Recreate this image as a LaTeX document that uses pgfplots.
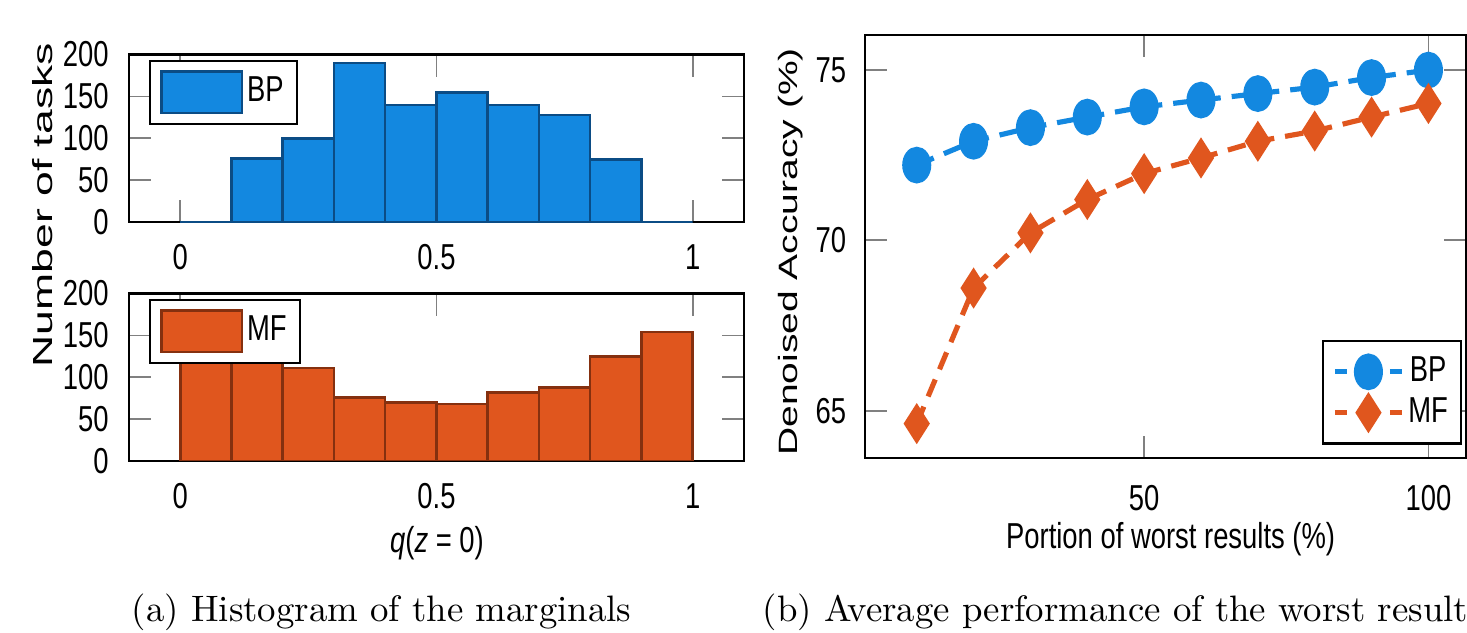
\documentclass[border=0pt]{standalone}
\usepackage{fontspec}
\usepackage{graphicx}
\usepackage{pgfplots}
\pgfplotsset{compat=1.18}

\newfontfamily\figsf[FakeStretch=0.76]{Liberation Sans}
\newfontfamily\labsf{Liberation Sans}
\newcommand\tickfont{\fontsize{9.8}{11.5}\selectfont\figsf}

\definecolor{bpblue}{HTML}{1388E0}
\definecolor{mforange}{HTML}{E0561E}
\definecolor{bpedge}{HTML}{0B4C85}
\definecolor{mfedge}{HTML}{85300F}

\pgfplotsset{
  matlab/.style={
    scale only axis, anchor=south west,
    axis line style={line width=0.75pt},
    tick style={gray, line width=0.5pt},
    major tick length=6pt,
    tick label style={font=\tickfont},
    /pgf/number format/assume math mode=true,
  },
  histo/.style={
    matlab,
    width=167.1pt, height=45.5pt,
    xmin=-0.1, xmax=1.1, ymin=0, ymax=200,
    xtick={0,0.5,1}, xticklabels={0,0.5,1},
    ytick={0,50,100,150,200},
    xticklabel style={yshift=-2.6pt},
    yticklabel style={xshift=-2pt},
    legend style={at={(0.033,0.97)}, anchor=north west, draw=black,
      line width=0.6pt, fill=white, inner xsep=2.6pt, inner ysep=2.6pt,
      font=\tickfont, nodes={inner xsep=1pt, inner ysep=1pt}},
  },
  histleg/.style={
    legend image code/.code={\draw[##1, line width=0.7pt] (0pt,-5.65pt) rectangle (22pt,5.65pt);},
  },
}

\begin{document}
\begin{tikzpicture}
\useasboundingbox (0pt,0pt) rectangle (398.64pt,171.74pt);
\clip (0pt,0pt) rectangle (398.64pt,171.74pt);

% (a) top histogram: BP
\begin{axis}[histo, at={(35.05pt,111.41pt)}]
  \addplot[ybar interval, histleg, fill=bpblue, draw=bpedge, line width=0.7pt] coordinates {
    (0,0) (0.1,76) (0.2,100) (0.3,190) (0.4,140) (0.5,155)
    (0.6,140) (0.7,128) (0.8,75) (0.9,0) (1,0)
  };
  \addlegendentry{BP}
\end{axis}

% (a) bottom histogram: MF
\begin{axis}[histo, at={(35.05pt,46.47pt)}]
  \addplot[ybar interval, histleg, fill=mforange, draw=mfedge, line width=0.7pt] coordinates {
    (0,122) (0.1,118) (0.2,111) (0.3,76) (0.4,70) (0.5,68)
    (0.6,82) (0.7,88) (0.8,125) (0.9,154) (1,154)
  };
  \addlegendentry{MF}
\end{axis}

% (b) worst results
\begin{axis}[matlab, at={(235.05pt,47.28pt)},
  width=163.3pt, height=114.95pt,
  xmin=0.9, xmax=106.6, ymin=63.61, ymax=76.03,
  xtick={50,100}, ytick={65,70,75},
  xticklabel style={yshift=-4pt},
  yticklabel style={xshift=-1.6pt},
  legend style={at={(0.9933,0.279)}, anchor=north east, draw=black,
    line width=0.6pt, fill=white, inner xsep=2.5pt, inner ysep=2.8pt,
    font=\tickfont, row sep=0pt,
    nodes={inner xsep=1pt, inner ysep=1.5pt, text height=6.7pt, text depth=1.4pt}},
  legend image code/.code={
    \draw[#1, dash pattern=on 3.3pt off 11.7pt on 3.3pt off 10pt, mark repeat=2, mark phase=2]
      plot coordinates {(0pt,0pt) (9.15pt,0pt) (18.3pt,0pt)};
  },
]
  \addplot[bpblue, line width=1.4pt, dash pattern=on 5pt off 3pt,
    mark=*, mark size=3.25pt, mark options={solid, yscale=1.32}] coordinates {
    (10,72.21) (20,72.91) (30,73.31) (40,73.62) (50,73.92)
    (60,74.12) (70,74.31) (80,74.50) (90,74.78) (100,75.00)
  };
  \addlegendentry{BP}
  \addplot[mforange, line width=1.4pt, dash pattern=on 5pt off 3pt,
    mark=diamond*, mark size=4.3pt, mark options={solid, xscale=0.85}] coordinates {
    (10,64.62) (20,68.60) (30,70.22) (40,71.20) (50,71.96)
    (60,72.42) (70,72.91) (80,73.21) (90,73.62) (100,74.02)
  };
  \addlegendentry{MF}
\end{axis}

% axis labels
\node[rotate=90, anchor=base] at (14.4pt,116pt)
  {\scalebox{1}[0.62]{\fontsize{12.1}{14}\selectfont\labsf Number of tasks}};
\node[rotate=90, anchor=base] at (216.6pt,103.3pt)
  {\scalebox{1}[0.68]{\fontsize{10.6}{13}\selectfont\labsf Denoised Accuracy (\%)}};
\node[anchor=base] at (118.75pt,21.7pt) {\tickfont\textit{q}(\textit{z} = 0)};
\node[anchor=base] at (318.1pt,22.7pt) {\tickfont Portion of worst results (\%)};

% captions
\node[anchor=base, inner sep=0pt] at (103.7pt,2.85pt)
  {\fontsize{10}{12}\selectfont (a) Histogram of the marginals};
\node[anchor=base west, inner sep=0pt] at (207.1pt,2.85pt)
  {\fontsize{10}{12}\selectfont (b) Average performance of the worst results};
\end{tikzpicture}
\end{document}
